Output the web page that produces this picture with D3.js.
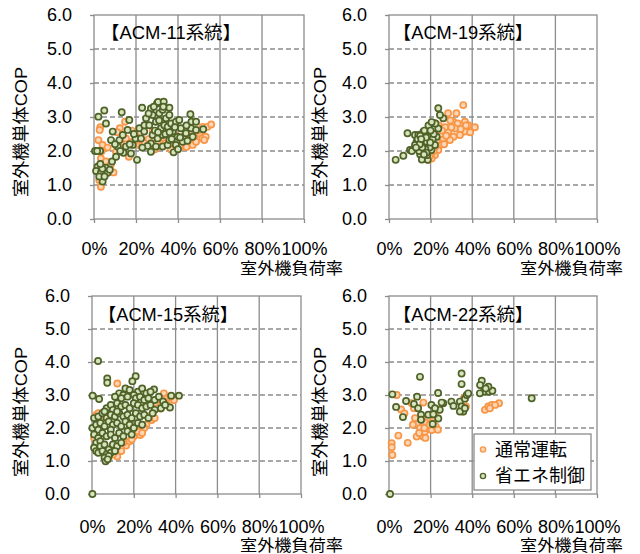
<!DOCTYPE html>
<html>
<head>
<meta charset="utf-8">
<script src="https://cdn.jsdelivr.net/npm/d3@7"></script>
<style>
  html, body { margin: 0; padding: 0; background: #fff; }
  svg { display: block; }
  text { font-family: "Liberation Sans", "Noto Sans CJK JP", sans-serif; fill: #000; }
</style>
</head>
<body>
<svg id="chart" width="640" height="554"></svg>
<script>
// Outdoor-unit load ratio (%) vs. outdoor-unit COP, four ACM systems,
// normal operation vs. energy-saving control.
const panelTitles = ["【ACM-11系統】", "【ACM-19系統】", "【ACM-15系統】", "【ACM-22系統】"];
const seriesNames = ["通常運転", "省エネ制御"];
const yAxisTitle = "室外機単体COP";
const xAxisTitle = "室外機負荷率";
const xTicks = [0, 20, 40, 60, 80, 100];
const yTicks = [0, 1, 2, 3, 4, 5, 6];

// [load %, COP]
const acm11Normal = [
  [3.0,2.70],[2.7,2.62],[2.1,2.32],[4.1,2.18],[3.7,2.0],[3.3,1.78],[4.1,1.34],[2.5,1.15],[3.3,0.95],
  [5.7,1.69],[7.3,1.49],[9.3,1.37],[10.5,1.98],[12.3,2.67],[14.8,2.86],[12.8,2.22],[15.2,2.37],[16.6,1.83],
  [18.4,2.27],[21.6,2.18],[23.0,2.18],[24.0,2.27],[27.9,2.22],[30.3,2.13],[32.7,2.18],[34.3,2.52],[35.9,2.27],
  [37.5,2.18],[41.6,2.37],[42.2,2.13],[44.9,2.18],[45.4,2.27],[45.4,2.57],[47.0,2.18],[47.8,2.42],[48.6,2.27],
  [50.2,2.52],[51.6,2.37],[51.7,2.71],[53.2,2.42],[54.0,2.71],[55.8,2.78],[52.5,2.32],[39.0,2.30],[43.0,2.45],
  [26.0,2.35],[20.0,2.45],[8.0,1.60],[6.5,2.10],[11.0,2.55],[18.0,2.60],[29.0,2.05],[36.5,2.05],[40.0,2.10],
  [46.5,2.40],[49.5,2.60],[13.5,2.10],[28.0,2.60],[33.0,2.40],[38.0,2.50],[44.0,2.12],[41.0,2.18]
];
const acm11Saving = [
  [0.5,2.0],[2.9,2.0],[1.5,2.0],[2.1,3.01],[4.9,3.19],[5.7,2.81],[13.2,3.14],[22.9,3.27],
  [1.7,1.54],[1.0,1.41],[3.3,1.36],[4.1,1.10],[5.7,1.51],[6.5,1.36],[2.5,1.25],[4.0,1.48],[3.0,1.62],
  [5.0,1.25],[7.5,1.45],[8.6,1.69],[10.5,1.83],[8.9,2.57],[8.1,2.32],[12.1,2.32],[13.7,2.47],[16.0,2.62],
  [16.8,2.91],[11.3,2.13],[15.2,2.13],[18.4,2.18],[17.6,1.93],[19.8,2.37],[20.5,1.74],[14.0,1.95],[12.5,2.0],
  [10.0,2.2],[21.6,2.67],[22.4,2.37],[23.9,2.57],[24.0,2.76],[24.8,2.96],[26.3,2.76],[27.1,2.22],[27.1,1.98],
  [27.1,3.25],[27.9,3.06],[27.9,2.47],[29.5,2.86],[29.5,2.13],[30.0,3.40],[30.3,2.37],[30.5,3.44],[31.1,3.11],
  [31.9,2.67],[32.7,3.21],[32.7,2.47],[32.7,2.13],[33.2,3.45],[33.5,2.76],[34.3,2.96],[35.1,2.71],[35.1,2.18],
  [35.9,3.27],[35.9,3.06],[35.9,2.32],[36.7,2.81],[37.5,2.57],[37.9,1.96],[39.0,2.86],[39.0,2.18],[39.8,2.42],
  [40.6,2.91],[41.4,2.67],[42.2,2.27],[43.8,2.52],[45.9,3.08],[46.4,2.86],[46.2,2.67],[47.0,2.42],[48.6,2.86],
  [48.6,2.62],[52.0,2.64],[25.5,2.15],[29.0,2.60],[31.0,2.90],[34.0,2.50],[37.0,2.35],[38.5,2.70],[41.0,2.40],
  [44.0,2.75],[26.0,3.10],[28.5,3.30],[33.0,3.30],[36.0,2.55],[30.5,2.55],[23.0,2.10],[19.0,2.50],[17.0,2.20],
  [44.5,2.30],[40.0,2.05]
];

const acm19Normal = [
  [35.7,3.35],[32.4,3.11],[28.4,3.11],[30.9,2.86],[33.0,2.81],[36.5,2.86],[38.1,2.76],[41.3,2.70],[36.5,2.57],
  [34.1,2.47],[31.0,2.42],[31.7,2.66],[28.5,2.57],[29.3,2.32],[26.1,2.37],[24.5,2.18],[23.7,2.03],[22.1,1.88],
  [20.5,1.78],[18.9,1.74],[27.0,2.70],[25.0,2.50],[26.5,2.20],[23.0,2.30],[21.5,2.00],[20.0,1.90],[39.0,2.55],
  [37.0,2.75],[34.5,2.65],[30.0,2.70],[27.5,2.45],[25.5,2.60],[22.5,2.15],[19.5,1.85],[24.0,2.75],[29.5,2.90]
];
const acm19Saving = [
  [3.2,1.74],[6.9,1.86],[10.1,2.03],[11.0,2.0],[8.9,2.52],[12.5,2.47],[23.7,3.26],[26.1,2.96],[24.5,3.06],
  [22.1,2.81],[21.8,2.66],[20.2,2.52],[18.6,2.42],[16.4,2.32],[15.6,2.18],[16.4,1.98],[17.2,1.78],[18.6,1.74],
  [18.4,1.88],[20.4,2.03],[22.1,2.18],[22.9,2.42],[23.7,2.66],[22.3,2.81],[16.5,2.57],[13.3,2.27],[12.5,2.18],
  [14.1,2.47],[18.1,2.27],[19.5,2.10],[17.5,2.05],[15.0,1.90],[15.8,1.75],[14.5,2.00],[13.8,2.35],[15.0,2.45],
  [17.0,2.60],[19.0,2.75],[20.5,2.85],[21.0,2.35],[19.8,2.25],[17.8,2.40],[16.0,2.10],[14.8,2.20],[21.5,2.50],
  [13.0,2.10],[18.0,1.95],[20.0,2.60],[15.5,2.35],[16.8,1.90]
];

const acm15Normal = [
  [12.1,1.14],[16.3,1.47],[18.0,1.60],[20.0,1.75],[23.1,1.79],[26.0,2.10],[28.5,2.24],[30.0,2.30],[32.8,2.59],
  [34.4,3.05],[39.2,2.85],[36.0,2.90],[12.1,3.35],[1.9,2.39],[3.0,2.45],[4.0,2.30],[14.0,1.30],[10.0,1.20],
  [22.0,1.90],[25.0,2.00],[31.0,2.60],[33.0,2.75],[36.0,2.70],[5.0,2.20],[2.0,2.00],[1.0,1.70],[24.0,1.85],
  [27.5,2.35],[37.5,2.95],[8.0,1.10],[15.0,1.55],[19.0,1.65],[29.0,2.45],[34.5,2.80],[21.0,2.05],[6.0,2.40]
];
const acm15Saving = [
  [2.9,4.03],[7.3,3.50],[7.3,3.37],[20.9,3.57],[19.3,3.42],
  [16.0,3.20],[18.0,3.15],[22.0,3.10],[24.0,3.20],[26.0,3.05],[29.7,3.17],[28.0,3.10],[13.0,3.05],[15.0,3.00],[20.0,3.00],
  [0.3,2.98],[3.4,2.88],[11.0,2.95],[14.0,2.90],[17.0,2.95],[21.0,2.90],[23.0,2.95],[25.0,2.85],[27.0,2.90],
  [30.0,2.85],[32.0,2.95],[37.9,2.98],[41.6,2.98],[34.0,2.80],
  [7.0,2.60],[9.0,2.70],[10.0,2.55],[12.0,2.75],[14.0,2.65],[16.0,2.70],[18.0,2.60],[20.0,2.75],[22.0,2.70],
  [24.0,2.60],[26.0,2.65],[28.0,2.70],[30.0,2.55],[33.0,2.60],[37.3,2.62],[35.0,2.70],
  [1.0,2.30],[3.0,2.35],[5.0,2.45],[7.0,2.30],[9.0,2.40],[11.0,2.35],[13.0,2.45],[15.0,2.35],[17.0,2.40],
  [19.0,2.30],[21.0,2.45],[23.0,2.35],[25.0,2.40],[27.0,2.30],[29.0,2.45],[6.0,2.50],[12.0,2.50],
  [0.2,2.00],[2.0,2.10],[4.0,2.15],[6.0,2.05],[8.0,2.20],[10.0,2.10],[12.0,2.15],[14.0,2.05],[16.0,2.20],
  [18.0,2.10],[20.0,2.00],[22.0,2.15],[24.0,2.10],[3.0,1.95],[9.0,1.95],
  [1.0,1.80],[3.0,1.70],[5.0,1.85],[7.0,1.75],[9.0,1.80],[11.0,1.70],[13.0,1.85],[15.0,1.75],[17.0,1.90],
  [19.0,1.80],[2.0,1.55],[4.0,1.60],
  [1.0,1.40],[2.0,1.30],[4.0,1.45],[6.0,1.50],[8.0,1.35],[10.0,1.50],[12.0,1.45],[14.0,1.55],[3.0,1.25],
  [5.0,1.30],[7.0,1.20],[9.0,1.25],[11.0,1.30],[6.0,1.10],[8.0,1.15],[6.5,0.99],[7.5,1.05],
  [0.2,0.00]
];

const acm22Normal = [
  [3.7,3.0],[1.3,1.54],[1.3,1.42],[1.6,1.18],[4.5,1.77],[9.0,1.55],[5.8,2.56],[7.4,2.44],[10.9,2.75],
  [12.0,2.60],[13.3,1.74],[14.1,2.14],[16.4,1.74],[17.2,1.89],[18.9,1.99],[20.5,1.94],[15.0,2.00],[16.0,2.30],
  [18.0,2.15],[12.5,2.30],[17.5,1.70],[19.5,2.10],[21.0,2.20],[22.5,2.05],[14.5,1.85],[11.5,2.10],[17.0,2.00],
  [16.5,2.77],[22.0,2.40],[24.0,2.55],[46.1,2.55],[47.7,2.65],[49.4,2.70],[52.9,2.75],[51.0,2.70],[48.5,2.60],
  [35.6,2.50],[37.0,2.65],[36.0,2.90],[23.5,1.95]
];
const acm22Saving = [
  [14.9,3.55],[34.9,3.65],[34.9,3.33],[44.6,3.43],[43.8,3.30],[45.6,3.10],[48.1,3.10],[49.7,3.13],[47.8,3.25],
  [43.7,3.05],[46.5,3.20],[68.6,2.90],[1.6,3.02],[3.4,2.64],[6.7,2.33],[8.2,2.82],[12.0,2.73],[13.5,2.95],
  [14.0,2.60],[15.4,2.40],[15.4,2.25],[23.6,3.06],[21.0,2.12],[18.9,2.40],[23.7,2.29],[24.4,2.55],[26.1,2.75],
  [30.0,2.80],[31.0,2.67],[34.1,2.80],[34.9,2.65],[36.5,2.89],[37.4,3.00],[38.1,3.05],[35.7,2.50],[34.1,2.50],
  [36.5,2.60],[20.4,2.70],[22.1,2.60],[25.3,2.77],[21.3,2.42],[0.5,0.00]
];

const panelData = [
  [acm11Normal, acm11Saving],
  [acm19Normal, acm19Saving],
  [acm15Normal, acm15Saving],
  [acm22Normal, acm22Saving]
];

// Layout of the four plot areas
const panels = [
  { left: 94,  right: 304, top: 15,  bottom: 219, tickY: 249,   titleY: 268, xTitleX: 240, yTitleX: 21.5, yTitleY: 132, nameX: 110, nameY: 33 },
  { left: 389, right: 597, top: 15,  bottom: 219, tickY: 249,   titleY: 268, xTitleX: 520, yTitleX: 320,  yTitleY: 132, nameX: 402, nameY: 33 },
  { left: 92,  right: 301, top: 296, bottom: 494, tickY: 526.5, titleY: 545, xTitleX: 240, yTitleX: 21.5, yTitleY: 412, nameX: 107, nameY: 315 },
  { left: 389, right: 597, top: 296, bottom: 494, tickY: 526.5, titleY: 545, xTitleX: 520, yTitleX: 320,  yTitleY: 412, nameX: 402, nameY: 315 }
];

const styles = [
  { stroke: "#f79646", fill: "#fcd5b5" },
  { stroke: "#4f6228", fill: "#d7e4bd" }
];
const gridColor = "#8c8c8c";

const svg = d3.select("#chart");

panels.forEach((p, i) => {
  const x = d3.scaleLinear().domain([0, 100]).range([p.left, p.right]);
  const y = d3.scaleLinear().domain([0, 6]).range([p.bottom, p.top]);
  const g = svg.append("g");

  // horizontal dashed gridlines
  g.selectAll("line.hgrid").data(yTicks.filter(v => v > 0 && v < 6)).join("line")
    .attr("x1", p.left).attr("x2", p.right)
    .attr("y1", d => y(d)).attr("y2", d => y(d))
    .attr("stroke", gridColor).attr("stroke-width", 1.3).attr("stroke-dasharray", "5,3");

  // vertical solid gridlines
  g.selectAll("line.vgrid").data(xTicks.filter(v => v > 0 && v < 100)).join("line")
    .attr("x1", d => x(d)).attr("x2", d => x(d))
    .attr("y1", p.top).attr("y2", p.bottom)
    .attr("stroke", gridColor).attr("stroke-width", 1.3);

  // plot frame
  g.append("rect")
    .attr("x", p.left).attr("y", p.top)
    .attr("width", p.right - p.left).attr("height", p.bottom - p.top)
    .attr("fill", "none").attr("stroke", gridColor).attr("stroke-width", 1.3);

  // y axis
  const yAxis = d3.axisLeft(y).tickValues(yTicks).tickFormat(d3.format(".1f")).tickSize(4).tickPadding(18);
  const ya = g.append("g").attr("transform", `translate(${p.left},0)`).call(yAxis);
  ya.select(".domain").remove();
  ya.selectAll(".tick line").attr("stroke", gridColor).attr("stroke-width", 1.3);
  ya.selectAll(".tick text").attr("font-size", 18).attr("font-family", null).attr("fill", "#000");

  // x axis
  const xAxis = d3.axisBottom(x).tickValues(xTicks).tickFormat(d => d + "%").tickSize(4);
  const xa = g.append("g").attr("transform", `translate(0,${p.bottom})`).call(xAxis);
  xa.select(".domain").remove();
  xa.selectAll(".tick line").attr("stroke", gridColor).attr("stroke-width", 1.3);
  xa.selectAll(".tick text").attr("font-size", 18).attr("font-family", null).attr("fill", "#000")
    .attr("y", p.tickY - p.bottom).attr("dy", "0.35em");

  // axis titles
  g.append("text")
    .attr("x", p.xTitleX).attr("y", p.titleY).attr("dy", "0.35em")
    .attr("font-size", 16).attr("textLength", 103).attr("lengthAdjust", "spacingAndGlyphs")
    .text(xAxisTitle);
  g.append("text")
    .attr("transform", `translate(${p.yTitleX},${p.yTitleY}) rotate(-90)`)
    .attr("text-anchor", "middle").attr("dy", "0.35em")
    .attr("font-size", 17).attr("textLength", 130).attr("lengthAdjust", "spacingAndGlyphs")
    .text(yAxisTitle);

  // panel name
  g.append("text")
    .attr("x", p.nameX - 9).attr("y", p.nameY).attr("dy", "0.35em")
    .attr("font-size", 18).attr("textLength", 140).attr("lengthAdjust", "spacingAndGlyphs")
    .text(panelTitles[i]);

  // points: normal operation first, energy-saving control on top
  panelData[i].forEach((series, s) => {
    g.append("g").selectAll("circle").data(series).join("circle")
      .attr("cx", d => x(d[0])).attr("cy", d => y(d[1])).attr("r", 3.1)
      .attr("fill", styles[s].fill).attr("stroke", styles[s].stroke).attr("stroke-width", 1.7);
  });
});

// legend in the ACM-22 panel
const lg = svg.append("g");
lg.append("rect").attr("x", 474).attr("y", 434).attr("width", 117).attr("height", 56)
  .attr("fill", "#fff").attr("stroke", gridColor).attr("stroke-width", 1.3);
seriesNames.forEach((name, s) => {
  const cy = 449.5 + s * 26.5;
  lg.append("circle").attr("cx", 483).attr("cy", cy).attr("r", 2.6)
    .attr("fill", styles[s].fill).attr("stroke", styles[s].stroke).attr("stroke-width", 1.4);
  lg.append("text").attr("x", 495).attr("y", cy).attr("dy", "0.35em")
    .attr("font-size", 18).text(name);
});
</script>
</body>
</html>
